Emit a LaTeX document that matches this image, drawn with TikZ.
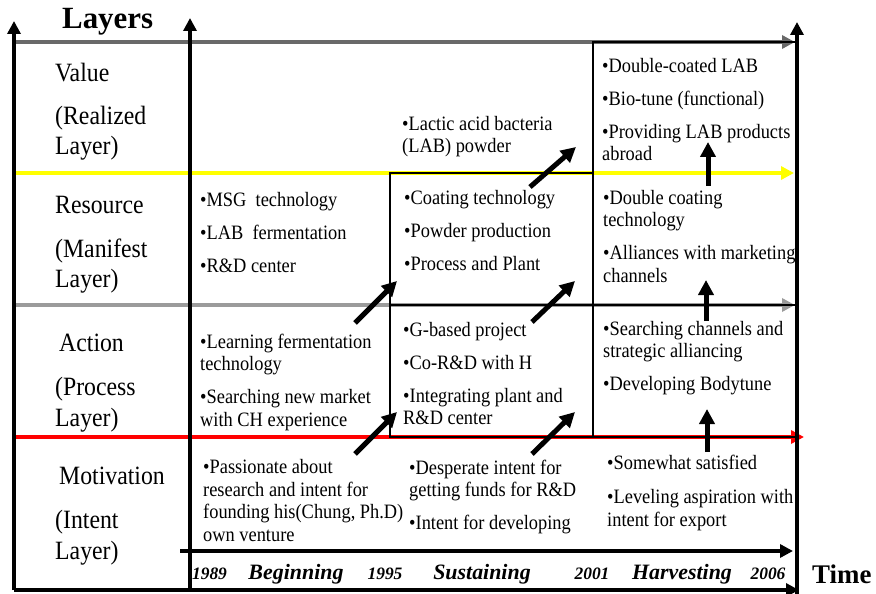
\documentclass[tikz,border=0pt]{standalone}
\usepackage{fontspec}
\setmainfont{Liberation Serif}
\newfontfamily\narrowserif{Liberation Serif}[FakeStretch=0.9]
\usetikzlibrary{arrows.meta}
\definecolor{DarkGray}{RGB}{105,105,105}
\definecolor{MidGray}{RGB}{155,155,155}
\definecolor{Yel}{RGB}{255,255,0}

\begin{document}
\begin{tikzpicture}[x=1bp, y=-1bp,
		every node/.style={inner sep=0pt, align=left, anchor=base west},
		cell/.style={font=\narrowserif\fontsize{20.5}{22.5}\selectfont},
		layername/.style={font=\narrowserif\fontsize{26.5}{30.5}\selectfont},
		period/.style={anchor=base, font=\fontsize{22}{22}\selectfont\bfseries\itshape},
		year/.style={anchor=base, font=\fontsize{17.5}{17.5}\selectfont\bfseries\itshape},
		band/.style={line width=4bp, -{Triangle[length=13bp,width=13bp]}},
		frame/.style={line width=4bp, -{Triangle[length=13bp,width=13bp]}},
		thinline/.style={line width=1.2bp},
		push/.style={line width=5bp, -{Triangle[length=15bp,width=15bp]}}
		]
		\useasboundingbox (0,0) rectangle (876,594);

		% frame and layer lines
		\coordinate (bl) at (14,590);   \coordinate (tl) at (14,21);
		\coordinate (mb) at (190,590);  \coordinate (mt) at (190,18);
		\coordinate (rb) at (797,594);  \coordinate (rt) at (797,22);
		\coordinate (br) at (799,590);
		\coordinate (t0) at (180,551);  \coordinate (t1) at (793,551);
		\coordinate (g0) at (14,42);    \coordinate (g1) at (795,42);
		\coordinate (y0) at (14,173);   \coordinate (y1) at (794,173);
		\coordinate (h0) at (14,305);   \coordinate (h1) at (795,305);
		\coordinate (r0) at (14,437);   \coordinate (r1) at (804,437);

		\draw[band, DarkGray] (g0) -- (g1);
		\draw[band, Yel] (y0) -- (y1);
		\draw[band, MidGray] (h0) -- (h1);
		\draw[band, red] (r0) -- (r1);

		\draw[thinline] (390,173) rectangle (593,437);
		\draw[thinline] (593,42) rectangle (797,437);
		\draw[thinline] (390,305) -- (797,305);

		\draw[frame] (bl) -- (tl);
		\draw[frame] (mb) -- (mt);
		\draw[frame] (rb) -- (rt);
		\draw[frame] (bl) -- (br);
		\draw[frame] (t0) -- (t1);

		% layer names (base = last line)
		\node[anchor=base west, font=\fontsize{31}{31}\selectfont\bfseries] (title) at (62,29) {Layers};
		\node[anchor=base west, font=\fontsize{27}{27}\selectfont\bfseries] (timelbl) at (812,583) {Time};
		\node[layername] (LV) at (55,154.5) {Value\\[12.5bp](Realized\\Layer)};
		\node[layername] (LR) at (55,287.5) {Resource\\[13.5bp](Manifest\\Layer)};
		\node[layername] (LA) at (55,426) {\hspace*{4bp}Action\\[14bp](Process\\Layer)};
		\node[layername] (LM) at (55,559) {\hspace*{4bp}Motivation\\[13.5bp](Intent\\Layer)};

		% cells
		\node[cell] (V2) at (402,152.5) {•Lactic acid bacteria\\(LAB) powder};
		\node[cell] (V3) at (602,160.5) {•Double-coated LAB\\[10.5bp]•Bio-tune (functional)\\[10.5bp]•Providing LAB products\\abroad};
		\node[cell] (R1) at (200,272) {•MSG\ \ technology\\[10.5bp]•LAB\ \ fermentation\\[10.5bp]•R\&D center};
		\node[cell] (R2) at (404,270) {•Coating technology\\[10.5bp]•Powder production\\[10.5bp]•Process and Plant};
		\node[cell] (R3) at (603,282) {•Double coating\\technology\\[10.5bp]•Alliances with marketing\\channels};
		\node[cell] (A1) at (200,426) {•Learning fermentation\\technology\\[10.5bp]•Searching new market\\with CH experience};
		\node[cell] (A2) at (403,424.5) {•G-based project\\[10.5bp]•Co-R\&D with H\\[10.5bp]•Integrating plant and\\R\&D center};
		\node[cell] (A3) at (603,390.5) {•Searching channels and\\strategic alliancing\\[10.5bp]•Developing Bodytune};
		\node[cell] (M1) at (203,541) {•Passionate about\\research and intent for\\founding his(Chung, Ph.D)\\own venture};
		\node[cell] (M2) at (409,529.5) {•Desperate intent for\\getting funds for R\&D\\[10.5bp]•Intent for developing};
		\node[cell] (M3) at (607,526) {•Somewhat satisfied\\[12bp]•Leveling aspiration with\\intent for export};

		% time axis
		\node[year] (y89) at (209.5,579) {1989};
		\node[period] (beg) at (296,579) {Beginning};
		\node[year] (y95) at (385,579) {1995};
		\node[period] (sus) at (482,579) {Sustaining};
		\node[year] (y01) at (592,579) {2001};
		\node[period] (har) at (682,579) {Harvesting};
		\node[year] (y06) at (768,579) {2006};

		% transitions
		\coordinate (p1) at (530,187);  \coordinate (q1) at (576,147);
		\coordinate (p2) at (355,323);  \coordinate (q2) at (397,281);
		\coordinate (p3) at (532,322);  \coordinate (q3) at (575,281);
		\coordinate (p4) at (355,454);  \coordinate (q4) at (397,412);
		\coordinate (p5) at (532,454);  \coordinate (q5) at (575,412);
		\coordinate (p6) at (708,186);  \coordinate (q6) at (708,142);
		\coordinate (p7) at (706,321);  \coordinate (q7) at (706,280);
		\coordinate (p8) at (707,452);  \coordinate (q8) at (707,409);

		\draw[push] (p1) -- (q1);
		\draw[push] (p2) -- (q2);
		\draw[push] (p3) -- (q3);
		\draw[push] (p4) -- (q4);
		\draw[push] (p5) -- (q5);
		\draw[push] (p6) -- (q6);
		\draw[push] (p7) -- (q7);
		\draw[push] (p8) -- (q8);
	\end{tikzpicture}
\end{document}
